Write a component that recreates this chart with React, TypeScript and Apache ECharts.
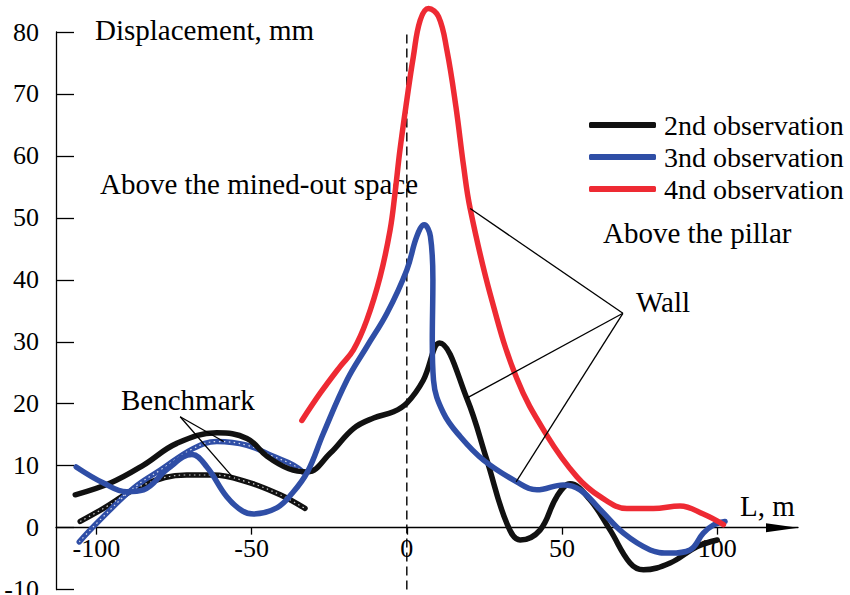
import React, { useEffect, useRef } from "react";
import * as echarts from "echarts";

const xTickValues = [-100, -50, 0, 50, 100];
const seriesNames = ["2nd observation", "3nd observation", "4nd observation"];

const obs2: number[][] = [
  [-106.8, 5.3], [-95.5, 7.2], [-84.8, 10.1], [-74.1, 13.6], [-61.2, 15.3], [-51.5, 14.4],
  [-45, 11.5], [-38, 9.5], [-32, 9.0], [-24.7, 12], [-17.2, 16], [-10.7, 17.7], [-4.3, 18.7],
  [0, 20.1], [5.3, 23.8], [10.5, 29.8], [19.3, 20.9], [25.8, 10.9], [32.2, 0.7], [36.5, -2],
  [42.9, -0.4], [48.3, 5], [52.6, 7.1], [59, 4.5], [65.5, -0.4], [71.9, -5.7], [76.2, -6.8],
  [84.8, -5.7], [93.4, -3.1], [100, -2.0],
];
const obs2Benchmark: number[][] = [
  [-105.2, 1], [-97.7, 3.1], [-84.8, 6.9], [-70.9, 8.5], [-62.3, 8.5], [-51.5, 7.4],
  [-40.8, 5.3], [-32.8, 3.1],
];
const obs3: number[][] = [
  [-106.5, 9.8], [-97.7, 7.2], [-90.2, 5.8], [-84.8, 6.1], [-77, 9.5], [-69.2, 11.8],
  [-64.4, 9.8], [-58, 5], [-53, 2.7], [-49.4, 2.2], [-41.9, 3.2], [-37, 5.5], [-32, 9],
  [-26.9, 15.2], [-19.3, 23.8], [-12.9, 29.2], [-6.4, 34.6], [0, 41.6], [3.2, 47], [5.6, 48.9],
  [7.6, 47], [8.4, 40], [8.2, 30], [8.6, 23.8], [11.8, 18.5], [17.2, 14.7], [24.7, 10.9],
  [35.4, 7.4], [41.9, 6.1], [50.4, 6.9], [55.8, 6.1], [62.3, 2.9], [69.8, -0.9], [78.4, -3.6],
  [84.8, -4.1], [91.2, -3.6], [95.5, -0.9], [98.7, 0.4], [102.5, 1.0],
];
const obs3Benchmark: number[][] = [
  [-105.5, -2.3], [-99.5, 0.9], [-88, 6.4], [-79.4, 9.3], [-68.7, 12.8], [-61.2, 13.9],
  [-51.5, 13.3], [-43, 11.5], [-36.5, 10.1], [-33.5, 9],
];
const obs4: number[][] = [
  [-33.8, 17.3], [-27.9, 21.7], [-21.5, 26], [-17.2, 28.7], [-12.9, 33.5], [-8.6, 40.5],
  [-5.4, 48], [-3.8, 54], [-2.2, 61], [0, 69], [2.1, 76], [4.3, 81.9], [7, 83.8], [10.2, 82.5],
  [12.9, 77.1], [15.8, 68], [18.3, 58.3], [20.4, 51.5], [26.8, 37.8], [35.4, 24.1],
  [45.1, 14.9], [54.8, 8.2], [62.3, 5.0], [70.9, 3.1], [79.4, 3.1], [88, 3.5], [95.5, 2.2],
  [102, 0.5],
];

const wallApex = [69.6, 34.6];
const wallTargets: number[][] = [[20.4, 51.5], [19.3, 20.9], [35.2, 7.4]];
const benchApex = [-73, 17.9];
const benchTargets: number[][] = [[-59, 13.9], [-55.8, 8.0]];
const zeroLine: number[][] = [[0, -10], [0, 80.3]];

const FONT = "Liberation Serif";
const BLACK = "#111111";
const BLUE = "#2f4ea6";
const RED = "#ee2a33";

export default function App() {
  const ref = useRef<HTMLDivElement>(null);
  useEffect(() => {
    const chart = echarts.init(ref.current!, null, { renderer: "svg" });

    const mainLine = (name: string | undefined, data: number[][], color: string, z: number) => ({
      type: "line",
      name,
      data,
      smooth: 0.4,
      symbol: "none",
      silent: true,
      clip: false,
      z,
      lineStyle: { color, width: 5.5, cap: "round", join: "round" },
      itemStyle: { color },
    });
    const texture = (data: number[][], z: number) => ({
      type: "line",
      data,
      smooth: 0.4,
      symbol: "none",
      silent: true,
      clip: false,
      z,
      lineStyle: { color: "#ffffff", width: 1.2, type: [1.5, 3.5], opacity: 0.8 },
    });
    const annot = (a: number[], b: number[]) => ({
      type: "line",
      data: [a, b],
      symbol: "none",
      silent: true,
      clip: false,
      z: 10,
      lineStyle: { color: "#000", width: 1.3 },
    });

    const text = (t: string, x: number, y: number, size = 29) => ({
      type: "text",
      x,
      y,
      silent: true,
      style: { text: t, fontSize: size, fontFamily: FONT, fill: "#000", verticalAlign: "middle" },
    });

    const option = {
      animation: false,
      backgroundColor: "#ffffff",
      textStyle: { fontFamily: FONT },
      grid: { left: 56, right: 52, top: 32, bottom: 5.4, containLabel: false, outerBoundsMode: "none" },
      legend: {
        data: seriesNames,
        orient: "vertical",
        left: 584,
        top: 104,
        itemWidth: 67,
        itemHeight: 6,
        itemGap: 0,
        icon: "roundRect",
        selectedMode: false,
        textStyle: {
          fontSize: 28,
          fontFamily: FONT,
          color: "#000",
          lineHeight: 22,
          padding: [0, 0, 10, 3],
        },
      },
      xAxis: {
        type: "value",
        min: -113,
        max: 126,
        splitLine: { show: false },
        axisLine: {
          onZero: true,
          lineStyle: { color: "#000", width: 1.3 },
          symbol: ["none", "triangle"],
          symbolSize: [9, 32],
          symbolOffset: [0, -16],
        },
        axisTick: {
          show: true,
          inside: false,
          length: 7,
          customValues: xTickValues,
          lineStyle: { color: "#000", width: 1.3 },
        },
        axisLabel: {
          customValues: xTickValues,
          fontSize: 26,
          fontFamily: FONT,
          color: "#000",
          margin: -54,
        },
      },
      yAxis: {
        type: "value",
        min: -10,
        max: 80,
        interval: 10,
        splitLine: { show: false },
        axisLine: { show: true, onZero: false, lineStyle: { color: "#000", width: 1.3 } },
        axisTick: { show: true, inside: true, length: 18, lineStyle: { color: "#000", width: 1.3 } },
        axisLabel: { fontSize: 26, fontFamily: FONT, color: "#000", margin: 17 },
      },
      graphic: [
        text("Displacement, mm", 95, 30),
        text("Above the mined-out space", 100, 184),
        text("Above the pillar", 603, 233),
        text("Wall", 636, 302),
        text("Benchmark", 121, 400),
        text("L, m", 740, 506),
      ],
      series: [
        {
          type: "line",
          data: zeroLine,
          symbol: "none",
          silent: true,
          clip: false,
          z: 1,
          lineStyle: { color: "#000", width: 1.4, type: [9, 5] },
        },
        mainLine(undefined, obs2Benchmark, BLACK, 2),
        texture(obs2Benchmark, 3),
        mainLine(undefined, obs3Benchmark, BLUE, 2),
        texture(obs3Benchmark, 3),
        mainLine(seriesNames[0], obs2, BLACK, 4),
        mainLine(seriesNames[1], obs3, BLUE, 5),
        mainLine(seriesNames[2], obs4, RED, 6),
        ...wallTargets.map((t) => annot(wallApex, t)),
        ...benchTargets.map((t) => annot(benchApex, t)),
      ],
    };

    chart.setOption(option as any);
    return () => chart.dispose();
  }, []);
  return (
    <div
      ref={ref}
      style={{ position: "fixed", left: 0, top: 0, width: 850, height: 595, background: "#fff" }}
    />
  );
}
